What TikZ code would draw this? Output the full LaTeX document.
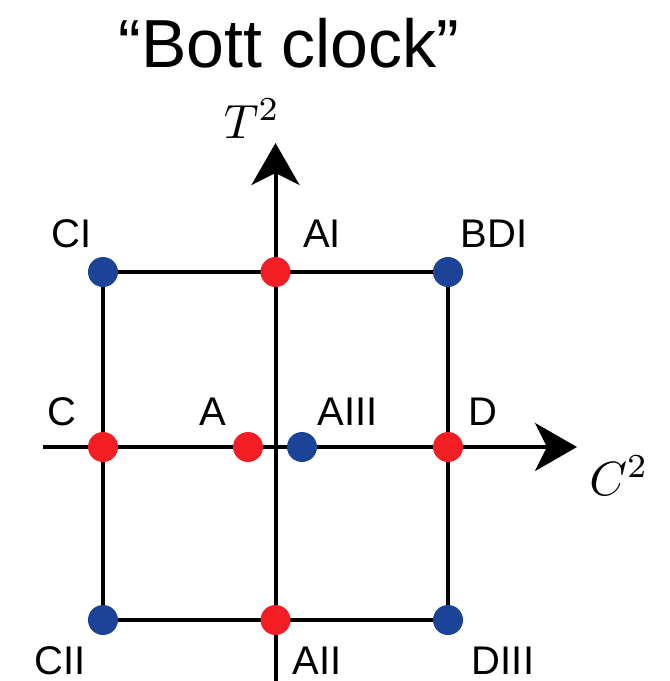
\documentclass[tikz,border=0pt]{standalone}
\usepackage[no-math]{fontspec}
\usepackage{graphicx}
\setmainfont{Liberation Sans}
\usetikzlibrary{arrows.meta}
\definecolor{dotred}{RGB}{242,30,36}
\definecolor{dotblue}{RGB}{27,67,151}
\pgfdeclarelayer{bg}
\pgfsetlayers{bg,main}
\tikzset{
  dotnode/.style={circle,inner sep=0pt,minimum size=30pt},
  rdot/.style={dotnode,fill=dotred},
  bdot/.style={dotnode,fill=dotblue},
  lbl/.style={anchor=base,inner sep=0pt,font=\fontsize{40}{40}\selectfont},
  mathlbl/.style={anchor=base,inner sep=0pt},
  edge/.style={line width=4pt,black},
  axis/.style={line width=4pt,black,-{Stealth[length=42pt,width=48pt,inset=12pt]}}
}
\begin{document}
\begin{tikzpicture}[x=1pt,y=-1pt]
\useasboundingbox (0,0) rectangle (670,681);
% title
\node[anchor=base,inner sep=0pt,font=\fontsize{68}{68}\selectfont] (title) at (289,67) {“Bott clock”};
% dots
\node[bdot] (CI) at (103,272) {};
\node[rdot] (AI) at (275.5,272) {};
\node[bdot] (BDI) at (448,272) {};
\node[rdot] (C) at (103,447) {};
\node[rdot] (A) at (248,447) {};
\node[bdot] (AIII) at (302,447) {};
\node[rdot] (D) at (448,447) {};
\node[bdot] (CII) at (103,620) {};
\node[rdot] (AII) at (275.5,620) {};
\node[bdot] (DIII) at (448,620) {};
% axis ends
\coordinate (hl) at (43,447);
\coordinate (hr) at (577,447);
\coordinate (vb) at (275.5,681);
\coordinate (vt) at (275.5,143);
\begin{pgfonlayer}{bg}
\draw[edge] (CI.center) -- (BDI.center) -- (DIII.center) -- (CII.center) -- cycle;
\draw[axis] (hl) -- (hr);
\draw[axis] (vb) -- (vt);
\end{pgfonlayer}
% axis labels
\node[mathlbl] (T2) at (252,138) {\scalebox{4.8}{$T^2$}};
\node[mathlbl] (C2) at (619,495) {\scalebox{4.8}{$C^2$}};
% labels
\node[lbl] (lCI) at (72,247) {CI};
\node[lbl] (lAI) at (322,247) {AI};
\node[lbl] (lBDI) at (494,247) {BDI};
\node[lbl] (lC) at (62,425) {C};
\node[lbl] (lA) at (213,425) {A};
\node[lbl] (lAIII) at (348,425) {AIII};
\node[lbl] (lD) at (483,425) {D};
\node[lbl] (lCII) at (60,674) {CII};
\node[lbl] (lAII) at (317,674) {AII};
\node[lbl] (lDIII) at (503,674) {DIII};
\end{tikzpicture}
\end{document}
